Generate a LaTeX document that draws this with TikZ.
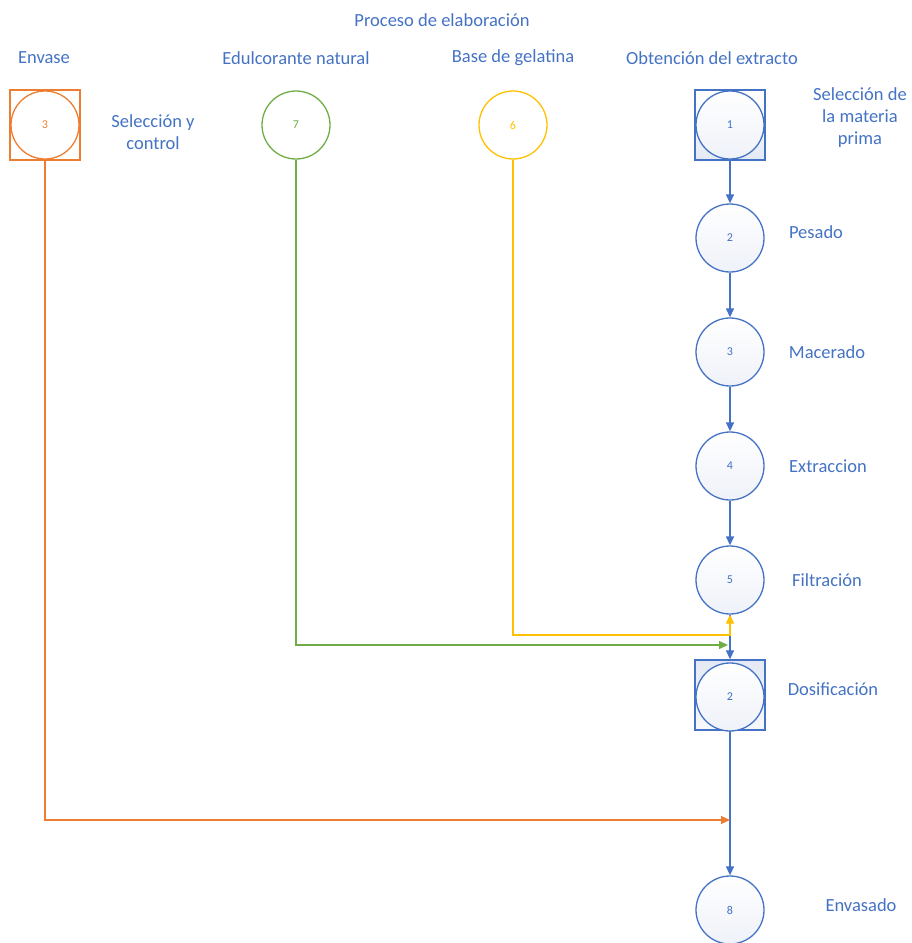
\documentclass[tikz,border=0pt]{standalone}
\usepackage{fontspec}
\setmainfont{Carlito}
\usetikzlibrary{arrows.meta}

\definecolor{azul}{HTML}{4472C4}
\definecolor{naranja}{HTML}{ED7D31}
\definecolor{verde}{HTML}{70AD47}
\definecolor{amarillo}{HTML}{FFC000}
\definecolor{relleno}{HTML}{E4E9F5}

\begin{document}
\begin{tikzpicture}[x=1pt, y=-1pt,
    etapa/.style={circle, draw=#1, line width=1.3pt, minimum size=68pt, inner sep=0pt,
      text=#1, font=\fontsize{12}{14}\selectfont},
    caja/.style={draw=#1, line width=1.3pt, minimum size=70pt, inner sep=0pt},
    rotulo/.style={text=azul, align=center, font=\fontsize{18.5}{22}\selectfont},
    flecha/.style={draw=#1, line width=1.3pt, -{Triangle[length=9pt,width=8pt]}}]
      \useasboundingbox (0, 0) rectangle (911, 943);
      % Draw the headers
      \node[rotulo] (h0) at (442, 20) {Proceso de elaboración};
      \node[rotulo] (h1) at (44, 58) {Envase};
      \node[rotulo] (h2) at (296, 58) {Edulcorante natural};
      \node[rotulo] (h3) at (513, 58) {Base de gelatina};
      \node[rotulo] (h4) at (712, 58) {Obtención del extracto};
      % Draw the boxes
      \node[caja=naranja] (b3) at (45, 125) {};
      \node[caja=azul, top color=white, bottom color=relleno, middle color=relleno!40] (b1) at (730, 125) {};
      \node[caja=azul, top color=relleno, bottom color=relleno!30] (b2) at (730, 695) {};
      % Draw the circles
      \node[etapa=naranja] (e3) at (45, 125) {3};
      \node[etapa=verde] (e7) at (296, 125) {7};
      \node[etapa=amarillo] (e6) at (513, 125) {6};
      \node[etapa=azul, top color=white, bottom color=relleno!60] (o1) at (730, 125) {1};
      \node[etapa=azul, top color=white, bottom color=relleno!60] (o2) at (730, 238) {2};
      \node[etapa=azul, top color=white, bottom color=relleno!60] (o3) at (730, 352) {3};
      \node[etapa=azul, top color=white, bottom color=relleno!60] (o4) at (730, 466) {4};
      \node[etapa=azul, top color=white, bottom color=relleno!60] (o5) at (730, 580) {5};
      \node[etapa=azul, top color=white, bottom color=relleno!60] (d2) at (730, 697) {2};
      \node[etapa=azul, top color=white, bottom color=relleno!60] (o8) at (730, 910) {8};
      % Draw the step names
      \node[rotulo] (t3) at (153, 132) {Selección y\\control};
      \node[rotulo] (t1) at (860, 118) {Selección de\\la materia\\prima};
      \node[rotulo] (t2) at (816, 232) {Pesado};
      \node[rotulo] (t4) at (827, 352) {Macerado};
      \node[rotulo] (t5) at (828, 466) {Extraccion};
      \node[rotulo] (t6) at (827, 580) {Filtración};
      \node[rotulo] (t7) at (833, 689) {Dosificación};
      \node[rotulo] (t8) at (861, 905) {Envasado};
      % Draw the corners of the side lines
      \coordinate (ky) at (513, 635);
      \coordinate (kg) at (296, 645);
      \coordinate (ko) at (45, 820);
      \coordinate (fy) at (730, 635);
      \coordinate (fg) at (728, 645);
      \coordinate (fo) at (730, 820);
      % Draw the arrows
      \draw[flecha=azul] (b1) -- (o2);
      \draw[flecha=azul] (o2) -- (o3);
      \draw[flecha=azul] (o3) -- (o4);
      \draw[flecha=azul] (o4) -- (o5);
      \draw[flecha=azul] (o5) -- (b2);
      \draw[flecha=azul] (b2) -- (o8);
      \draw[flecha=amarillo] (e6) -- (ky) -- (fy) -- (o5);
      \draw[flecha=verde] (e7) -- (kg) -- (fg);
      \draw[flecha=naranja] (b3) -- (ko) -- (fo);
    \end{tikzpicture}
\end{document}
